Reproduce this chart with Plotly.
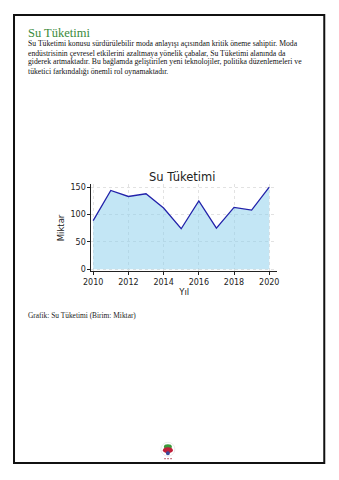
import plotly.graph_objects as go

# Yıllık su tüketimi verisi
years = [2010, 2011, 2012, 2013, 2014, 2015, 2016, 2017, 2018, 2019, 2020]
consumption = [89, 144, 133, 138, 112, 74, 125, 75, 113, 108, 150]

x_ticks = [2010, 2012, 2014, 2016, 2018, 2020]
y_ticks = [0, 50, 100, 150]

heading = "Su Tüketimi"
body_lines = [
    "Su Tüketimi konusu sürdürülebilir moda anlayışı açısından kritik öneme sahiptir. Moda",
    "endüstrisinin çevresel etkilerini azaltmaya yönelik çabalar, Su Tüketimi alanında da",
    "giderek artmaktadır. Bu bağlamda geliştirilen yeni teknolojiler, politika düzenlemeleri ve",
    "tüketici farkındalığı önemli rol oynamaktadır.",
]
caption = "Grafik: Su Tüketimi (Birim: Miktar)"

W, H = 339, 480
# horizontal placement of the paper area on the page
PX0, PXW = 8.5, 328.2

fig = go.Figure()
fig.add_trace(go.Scatter(
    x=years, y=consumption, mode="lines",
    line=dict(color="#2222aa", width=1.3),
    fill="tozeroy", fillcolor="rgba(135,206,235,0.5)",
    hoverinfo="skip", showlegend=False,
))

serif = "Liberation Serif"
sans = "DejaVu Sans"


def px_x(v):
    return (v - PX0) / PXW


def px_y(v):
    return 1 - v / H


annotations = [
    dict(text=heading, x=px_x(26), y=px_y(32), xref="paper", yref="paper",
         xanchor="left", yanchor="middle", showarrow=False,
         font=dict(family=serif, size=12.5, color="#3a8a3a")),
    dict(text=caption, x=px_x(26), y=px_y(317), xref="paper", yref="paper",
         xanchor="left", yanchor="middle", showarrow=False,
         font=dict(family=serif, size=7.4, color="#222222")),
    dict(text="Su Tüketimi", x=px_x(182), y=px_y(177), xref="paper", yref="paper",
         xanchor="center", yanchor="middle", showarrow=False,
         font=dict(family=sans, size=11.5, color="#222222")),
]
line_y = [42.5, 52.5, 61.5, 71]
for txt, yy in zip(body_lines, line_y):
    annotations.append(dict(
        text=txt, x=px_x(26), y=px_y(yy), xref="paper", yref="paper",
        xanchor="left", yanchor="middle", showarrow=False,
        font=dict(family=serif, size=7.7, color="#111111")))

shapes = [
    # page frame
    dict(type="rect", xref="paper", yref="paper",
         x0=px_x(14.5), x1=px_x(324), y0=px_y(466), y1=px_y(14),
         line=dict(color="#111111", width=2)),
    # small emblem at the foot of the page
    dict(type="circle", xref="paper", yref="paper",
         x0=px_x(161), x1=px_x(175), y0=px_y(459), y1=px_y(445),
         line=dict(color="#dddddd", width=0.6), fillcolor="rgba(0,0,0,0)"),
    dict(type="circle", xref="paper", yref="paper",
         x0=px_x(164), x1=px_x(172), y0=px_y(452), y1=px_y(447),
         line=dict(width=0), fillcolor="#3a9a3a"),
    dict(type="circle", xref="paper", yref="paper",
         x0=px_x(163), x1=px_x(173), y0=px_y(456), y1=px_y(450),
         line=dict(width=0), fillcolor="#c0203a"),
    dict(type="circle", xref="paper", yref="paper",
         x0=px_x(166), x1=px_x(170), y0=px_y(458), y1=px_y(454),
         line=dict(width=0), fillcolor="#3a4a9a"),
]
for dx in (-3, 0, 3):
    shapes.append(dict(type="rect", xref="paper", yref="paper",
                       x0=px_x(167.5 + dx), x1=px_x(168.8 + dx),
                       y0=px_y(462), y1=px_y(460.8),
                       line=dict(width=0), fillcolor="#b04050"))

axis_common = dict(
    showline=True, linecolor="#222222", linewidth=1,
    ticks="outside", ticklen=3, tickwidth=0.8, tickcolor="#222222",
    showgrid=True, gridcolor="#e2e2e2", griddash="dot", gridwidth=0.8,
    zeroline=False, tickfont=dict(family=sans, size=8, color="#222222"),
)

fig.update_layout(
    width=W, height=H,
    margin=dict(l=0, r=0, t=0, b=0),
    paper_bgcolor="white", plot_bgcolor="white",
    xaxis=dict(domain=[px_x(91.7), px_x(277)], range=[2009.9, 2020.45],
               tickvals=x_ticks, ticktext=[str(t) for t in x_ticks],
               title=dict(text="Yıl", font=dict(family=sans, size=8.5, color="#222222"),
                          standoff=2),
               **axis_common),
    yaxis=dict(domain=[1 - 272.7 / H, 1 - 185 / H], range=[-4, 155],
               tickvals=y_ticks, ticktext=[str(t) for t in y_ticks],
               title=dict(text="Miktar", font=dict(family=sans, size=8.5, color="#222222"),
                          standoff=4),
               **axis_common),
    annotations=annotations,
    shapes=shapes,
)

fig.write_html("out.html")
